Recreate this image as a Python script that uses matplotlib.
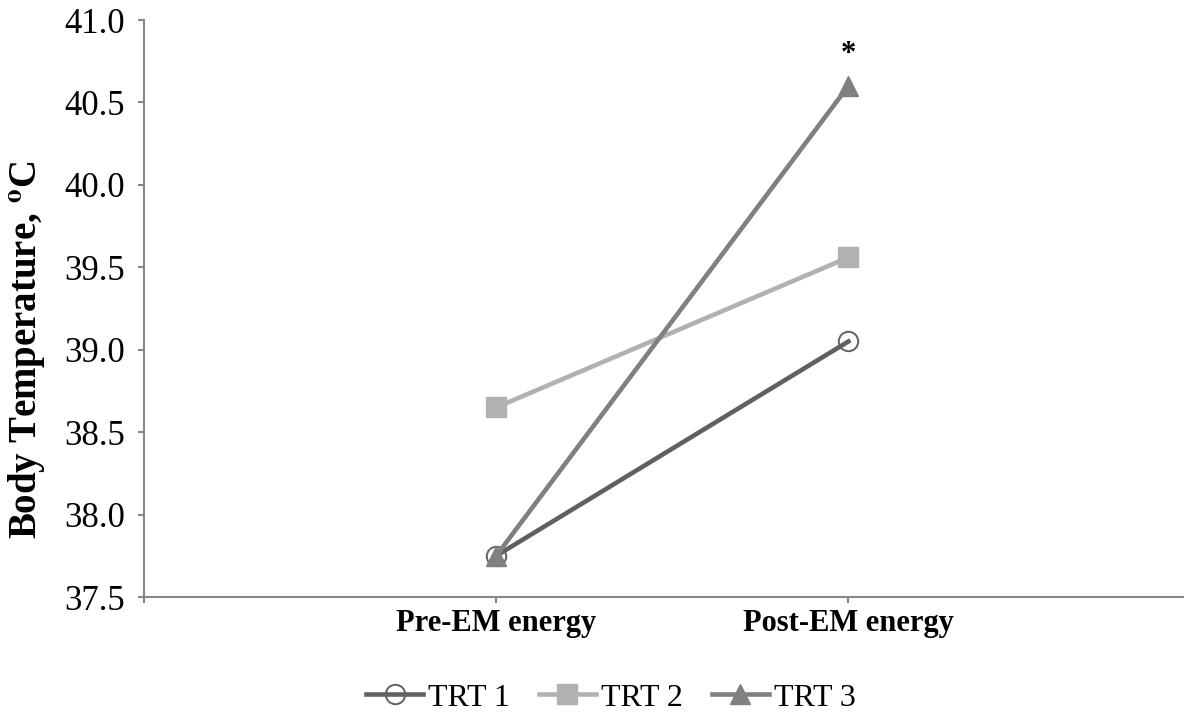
import matplotlib.pyplot as plt

plt.rcParams['font.family'] = ['Liberation Serif', 'DejaVu Serif']
plt.rcParams['mathtext.fontset'] = 'stix'

# datos
periods = ['Pre-EM energy', 'Post-EM energy']
trt1 = [37.75, 39.05]
trt2 = [38.65, 39.56]
trt3 = [37.75, 40.60]
names = ['TRT 1', 'TRT 2', 'TRT 3']

axis_col = '#878787'

fig = plt.figure(figsize=(11.93, 7.15), dpi=100)
ax = fig.add_axes([0.1207, 0.165, 0.8709, 0.807])

x = [1, 2]
ax.plot(x, trt1, color='#606060', lw=3.3, marker='o', ms=14, mfc='none',
        mec='#606060', mew=1.4, label=names[0], zorder=3)
ax.plot(x, trt2, color='#b1b1b1', lw=3.3, marker='s', ms=14, mfc='#b1b1b1',
        mec='#b1b1b1', label=names[1], zorder=3)
ax.plot(x, trt3, color='#808080', lw=3.3, marker='^', ms=15, mfc='#808080',
        mec='#808080', label=names[2], zorder=4)

# asterisco de significancia
ax.text(2, trt3[1] + 0.1, '*', ha='center', va='bottom', fontsize=22,
        fontweight='bold')

ax.set_xlim(0, 2.95)
ax.set_ylim(37.5, 41.0)
ax.set_yticks([37.5 + 0.5 * i for i in range(8)])
ax.set_yticklabels(['%.1f' % (37.5 + 0.5 * i) for i in range(8)], fontsize=25)
ax.set_xticks([0] + x)
ax.set_xticklabels([''] + periods, fontsize=22, fontweight='bold')

for s in ['top', 'right']:
    ax.spines[s].set_visible(False)
for s in ['left', 'bottom']:
    ax.spines[s].set_color(axis_col)
    ax.spines[s].set_linewidth(1.5)
ax.tick_params(axis='y', direction='out', length=4.5, width=1.5, color=axis_col, pad=9)
ax.tick_params(axis='x', direction='out', length=4.5, width=1.5, color=axis_col, pad=4)

ax.set_ylabel(r'Body Temperature, $^{\mathbf{o}}$C', fontsize=28,
              fontweight='bold')
ax.yaxis.set_label_coords(-0.093, 0.428)

fig.legend(loc='center', bbox_to_anchor=(0.512, 0.024), ncol=3,
           frameon=False, fontsize=23, handlelength=1.8, handletextpad=0.15,
           columnspacing=0.9)

fig.savefig('out.png', dpi=100)
